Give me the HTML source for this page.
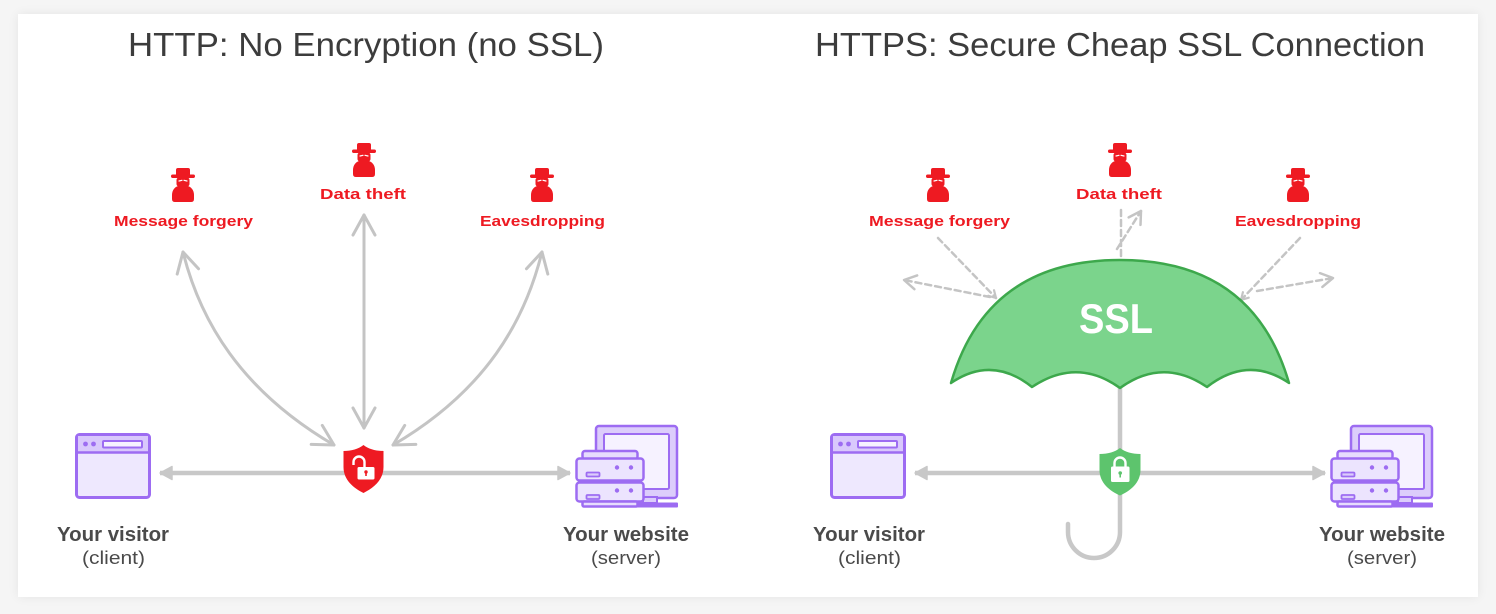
<!DOCTYPE html>
<html>
<head>
<meta charset="utf-8">
<style>
  html,body{margin:0;padding:0;background:#f5f5f5;}
  body{width:1496px;height:614px;overflow:hidden;position:relative;}
  .card{position:absolute;left:18px;top:14px;width:1460px;height:583px;background:#fff;box-shadow:0 0 10px rgba(0,0,0,0.07);}
  svg{position:absolute;left:0;top:0;}
</style>
</head>
<body>
<div class="card"></div>
<svg width="1496" height="614" viewBox="0 0 1496 614" xmlns="http://www.w3.org/2000/svg">
  <defs>
    <symbol id="spy" viewBox="0 0 28 34" width="28" height="34">
      <path d="M9,0 h10 a2,2 0 0 1 2,2 v5 h-14 v-5 a2,2 0 0 1 2,-2 z" fill="#ee1a22"/>
      <rect x="2" y="6.5" width="24" height="3.5" rx="1.7" fill="#ee1a22"/>
      <rect x="7.5" y="9.5" width="13" height="9" rx="2.5" fill="#ee1a22"/>
      <path d="M10,13 L13,12.3 M15,12.3 L18,13" stroke="#fff" stroke-width="1.2" stroke-linecap="round"/>
      <path d="M9,18 L19,18 C22,19 25,22 25,27 L25,31 Q25,34 22,34 L6,34 Q3,34 3,31 L3,27 C3,22 6,19 9,18 Z" fill="#ee1a22"/>
    </symbol>
    <marker id="chev" markerUnits="userSpaceOnUse" viewBox="0 0 26 26" refX="23" refY="13" markerWidth="26" markerHeight="26" orient="auto-start-reverse">
      <path d="M3,2 L23,13 L3,24" fill="none" stroke="#c4c4c4" stroke-width="3" stroke-linecap="round" stroke-linejoin="round"/>
    </marker>
    <marker id="tri" markerUnits="userSpaceOnUse" viewBox="0 0 16 16" refX="14" refY="8" markerWidth="16" markerHeight="16" orient="auto-start-reverse">
      <path d="M2,1.5 L14,8 L2,14.5 Z" fill="#c8c8c8" stroke="#c8c8c8" stroke-width="1.5" stroke-linejoin="round"/>
    </marker>
    <marker id="dchev" markerUnits="userSpaceOnUse" viewBox="0 0 20 20" refX="17" refY="10" markerWidth="20" markerHeight="20" orient="auto">
      <path d="M5,3 L17,10 L5,17" fill="none" stroke="#c4c4c4" stroke-width="2.5" stroke-linecap="round" stroke-linejoin="round" stroke-dasharray="none"/>
    </marker>
    <marker id="dsmall" markerUnits="userSpaceOnUse" viewBox="0 0 14 14" refX="12" refY="7" markerWidth="14" markerHeight="14" orient="auto">
      <path d="M5,3 L12,7 L5,11" fill="none" stroke="#c4c4c4" stroke-width="2.2" stroke-linecap="round" stroke-linejoin="round" stroke-dasharray="none"/>
    </marker>
  </defs>

  <!-- Titles -->
  <text x="128" y="56" font-family="Liberation Sans, sans-serif" font-size="33" fill="#3c3c3c" textLength="476" lengthAdjust="spacingAndGlyphs">HTTP: No Encryption (no SSL)</text>
  <text x="815" y="56" font-family="Liberation Sans, sans-serif" font-size="33" fill="#3c3c3c" textLength="610" lengthAdjust="spacingAndGlyphs">HTTPS: Secure Cheap SSL Connection</text>

  <!-- ===== LEFT PANEL ===== -->
  <use href="#spy" x="169" y="168"/>
  <use href="#spy" x="350" y="143"/>
  <use href="#spy" x="528" y="168"/>
  <g font-family="Liberation Sans, sans-serif" font-weight="bold" font-size="15" fill="#ee1a22">
    <text x="114" y="226" textLength="139" lengthAdjust="spacingAndGlyphs">Message forgery</text>
    <text x="320" y="199" textLength="86" lengthAdjust="spacingAndGlyphs">Data theft</text>
    <text x="480" y="226" textLength="125" lengthAdjust="spacingAndGlyphs">Eavesdropping</text>
  </g>

  <!-- curved arrows -->
  <g fill="none" stroke="#c4c4c4" stroke-width="3" stroke-linecap="round">
    <path d="M183,252 C200,320 240,390 334,445" marker-start="url(#chev)" marker-end="url(#chev)"/>
    <path d="M364,215 L364,428" marker-start="url(#chev)" marker-end="url(#chev)"/>
    <path d="M542,252 C525,320 487,390 393,445" marker-start="url(#chev)" marker-end="url(#chev)"/>
  </g>
  <!-- horizontal -->
  <path d="M160,473 L570,473" stroke="#c8c8c8" stroke-width="4.5" fill="none" marker-start="url(#tri)" marker-end="url(#tri)"/>

  <!-- red shield -->
  <g transform="translate(363.5,445)">
    <path d="M0,0 C5,4 12,6 20,6 L20,22 C20,35 10,43 0,48 C-10,43 -20,35 -20,22 L-20,6 C-12,6 -5,4 0,0 Z" fill="#ee1a22"/>
    <path d="M-10,20 L-10,17 A5.5,5.5 0 0 1 1,17 L1,22" fill="none" stroke="#fff" stroke-width="2.4"/>
    <rect x="-6" y="22" width="17" height="12.5" rx="1.5" fill="#fff"/>
    <circle cx="2.5" cy="27" r="1.7" fill="#ee1a22"/>
    <rect x="1.7" y="27" width="1.6" height="4" fill="#ee1a22"/>
  </g>

  <!-- browser icon left -->
  <g transform="translate(0,0)">
    <rect x="76.5" y="434.5" width="73" height="63" rx="3" fill="#eee8fe" stroke="#9d6cf2" stroke-width="3"/>
    <path d="M78,436 h70 v16 h-70 z" fill="#d9c8fc"/>
    <line x1="77" y1="452.5" x2="149" y2="452.5" stroke="#9d6cf2" stroke-width="2.5"/>
    <circle cx="85.5" cy="444" r="2.4" fill="#9d6cf2"/>
    <circle cx="93.5" cy="444" r="2.4" fill="#9d6cf2"/>
    <rect x="103" y="441" width="39" height="6.5" rx="1" fill="#f6f2ff" stroke="#9d6cf2" stroke-width="2"/>
  </g>

  <!-- server icon left -->
  <g id="server">
    <rect x="596" y="426" width="81" height="72" rx="3" fill="#dccdfb" stroke="#9d6cf2" stroke-width="2.5"/>
    <rect x="604" y="434" width="65" height="55" rx="1.5" fill="#f6f2ff" stroke="#9d6cf2" stroke-width="2"/>
    <rect x="643" y="497" width="14" height="6" fill="#dccdfb" stroke="#9d6cf2" stroke-width="2"/>
    <rect x="636" y="502.5" width="42" height="5" rx="1" fill="#9d6cf2"/>
    <rect x="582.5" y="451" width="55" height="8" rx="2.5" fill="#e6dcfd" stroke="#9d6cf2" stroke-width="2.5"/>
    <rect x="576.5" y="458.5" width="67" height="22" rx="3" fill="#ece4fe" stroke="#9d6cf2" stroke-width="2.5"/>
    <circle cx="617" cy="467.5" r="2.2" fill="#9d6cf2"/>
    <circle cx="631" cy="467.5" r="2.2" fill="#9d6cf2"/>
    <rect x="586.5" y="472.5" width="13" height="4" rx="1" fill="#dccdfb" stroke="#9d6cf2" stroke-width="1.8"/>
    <rect x="576.5" y="482.5" width="67" height="19" rx="3" fill="#ece4fe" stroke="#9d6cf2" stroke-width="2.5"/>
    <circle cx="617" cy="490.5" r="2.2" fill="#9d6cf2"/>
    <circle cx="631" cy="490.5" r="2.2" fill="#9d6cf2"/>
    <rect x="586.5" y="495" width="13" height="4" rx="1" fill="#dccdfb" stroke="#9d6cf2" stroke-width="1.8"/>
    <rect x="582.5" y="501.5" width="55" height="5" rx="1.5" fill="#e6dcfd" stroke="#9d6cf2" stroke-width="2.5"/>
  </g>

  <!-- bottom labels left -->
  <g font-family="Liberation Sans, sans-serif" fill="#4a4a4a">
    <text x="57" y="541" font-size="20" font-weight="bold" textLength="112" lengthAdjust="spacingAndGlyphs">Your visitor</text>
    <text x="82" y="564" font-size="18" textLength="63" lengthAdjust="spacingAndGlyphs">(client)</text>
    <text x="563" y="541" font-size="20" font-weight="bold" textLength="126" lengthAdjust="spacingAndGlyphs">Your website</text>
    <text x="591" y="564" font-size="18" textLength="70" lengthAdjust="spacingAndGlyphs">(server)</text>
  </g>

  <!-- ===== RIGHT PANEL ===== -->
  <use href="#spy" x="924" y="168"/>
  <use href="#spy" x="1106" y="143"/>
  <use href="#spy" x="1284" y="168"/>
  <g font-family="Liberation Sans, sans-serif" font-weight="bold" font-size="15" fill="#ee1a22">
    <text x="869" y="226" textLength="141" lengthAdjust="spacingAndGlyphs">Message forgery</text>
    <text x="1076" y="199" textLength="86" lengthAdjust="spacingAndGlyphs">Data theft</text>
    <text x="1235" y="226" textLength="126" lengthAdjust="spacingAndGlyphs">Eavesdropping</text>
  </g>

  <!-- dashed deflected arrows -->
  <g fill="none" stroke="#c4c4c4" stroke-width="2.5" stroke-dasharray="6 4" stroke-linecap="round">
    <path d="M938,238 L996,298" marker-end="url(#dsmall)"/>
    <path d="M990,297 L904,280" marker-end="url(#dchev)"/>
    <path d="M1121,210 L1121,258"/>
    <path d="M1117,249 L1141,211" marker-end="url(#dchev)"/>
    <path d="M1300,238 L1241,300" marker-end="url(#dsmall)"/>
    <path d="M1257,291 L1333,278" marker-end="url(#dchev)"/>
  </g>

  <!-- horizontal right -->
  <path d="M915,473 L1325,473" stroke="#c8c8c8" stroke-width="4.5" fill="none" marker-start="url(#tri)" marker-end="url(#tri)"/>

  <!-- umbrella handle -->
  <path d="M1120,386 L1120,532 A26,26 0 0 1 1068,532 L1068,524" fill="none" stroke="#c8c8c8" stroke-width="4.5" stroke-linecap="round"/>

  <!-- canopy -->
  <path d="M951,383 C975,300 1032,260 1120,260 C1208,260 1265,300 1289,383 Q1248,355 1207,387 Q1163,357 1120,388 Q1077,357 1032,387 Q992,355 951,383 Z" fill="#7bd48c" stroke="#3da84c" stroke-width="2.5" stroke-linejoin="round"/>
  <text x="1079" y="333" font-family="Liberation Sans, sans-serif" font-weight="bold" font-size="42" fill="#ffffff" textLength="74" lengthAdjust="spacingAndGlyphs">SSL</text>

  <!-- green shield -->
  <g transform="translate(1120,448)">
    <path d="M0,0 C5,4 12,6 20.5,6 L20.5,22 C20.5,35 10,43 0,47.5 C-10,43 -20.5,35 -20.5,22 L-20.5,6 C-12,6 -5,4 0,0 Z" fill="#5dc46d"/>
    <path d="M-5.5,19 L-5.5,15 A5.5,5.5 0 0 1 5.5,15 L5.5,19" fill="none" stroke="#fff" stroke-width="2.4"/>
    <rect x="-9" y="18.5" width="18.5" height="15.5" rx="1.5" fill="#fff"/>
    <circle cx="0.2" cy="25" r="1.8" fill="#5dc46d"/>
    <rect x="-0.6" y="25" width="1.6" height="4.5" fill="#5dc46d"/>
  </g>

  <!-- browser icon right -->
  <g transform="translate(755,0)">
    <rect x="76.5" y="434.5" width="73" height="63" rx="3" fill="#eee8fe" stroke="#9d6cf2" stroke-width="3"/>
    <path d="M78,436 h70 v16 h-70 z" fill="#d9c8fc"/>
    <line x1="77" y1="452.5" x2="149" y2="452.5" stroke="#9d6cf2" stroke-width="2.5"/>
    <circle cx="85.5" cy="444" r="2.4" fill="#9d6cf2"/>
    <circle cx="93.5" cy="444" r="2.4" fill="#9d6cf2"/>
    <rect x="103" y="441" width="39" height="6.5" rx="1" fill="#f6f2ff" stroke="#9d6cf2" stroke-width="2"/>
  </g>

  <!-- server icon right -->
  <g transform="translate(755,0)">
    <rect x="596" y="426" width="81" height="72" rx="3" fill="#dccdfb" stroke="#9d6cf2" stroke-width="2.5"/>
    <rect x="604" y="434" width="65" height="55" rx="1.5" fill="#f6f2ff" stroke="#9d6cf2" stroke-width="2"/>
    <rect x="643" y="497" width="14" height="6" fill="#dccdfb" stroke="#9d6cf2" stroke-width="2"/>
    <rect x="636" y="502.5" width="42" height="5" rx="1" fill="#9d6cf2"/>
    <rect x="582.5" y="451" width="55" height="8" rx="2.5" fill="#e6dcfd" stroke="#9d6cf2" stroke-width="2.5"/>
    <rect x="576.5" y="458.5" width="67" height="22" rx="3" fill="#ece4fe" stroke="#9d6cf2" stroke-width="2.5"/>
    <circle cx="617" cy="467.5" r="2.2" fill="#9d6cf2"/>
    <circle cx="631" cy="467.5" r="2.2" fill="#9d6cf2"/>
    <rect x="586.5" y="472.5" width="13" height="4" rx="1" fill="#dccdfb" stroke="#9d6cf2" stroke-width="1.8"/>
    <rect x="576.5" y="482.5" width="67" height="19" rx="3" fill="#ece4fe" stroke="#9d6cf2" stroke-width="2.5"/>
    <circle cx="617" cy="490.5" r="2.2" fill="#9d6cf2"/>
    <circle cx="631" cy="490.5" r="2.2" fill="#9d6cf2"/>
    <rect x="586.5" y="495" width="13" height="4" rx="1" fill="#dccdfb" stroke="#9d6cf2" stroke-width="1.8"/>
    <rect x="582.5" y="501.5" width="55" height="5" rx="1.5" fill="#e6dcfd" stroke="#9d6cf2" stroke-width="2.5"/>
  </g>

  <!-- bottom labels right -->
  <g font-family="Liberation Sans, sans-serif" fill="#4a4a4a">
    <text x="813" y="541" font-size="20" font-weight="bold" textLength="112" lengthAdjust="spacingAndGlyphs">Your visitor</text>
    <text x="838" y="564" font-size="18" textLength="63" lengthAdjust="spacingAndGlyphs">(client)</text>
    <text x="1319" y="541" font-size="20" font-weight="bold" textLength="126" lengthAdjust="spacingAndGlyphs">Your website</text>
    <text x="1347" y="564" font-size="18" textLength="70" lengthAdjust="spacingAndGlyphs">(server)</text>
  </g>
</svg>
</body>
</html>
